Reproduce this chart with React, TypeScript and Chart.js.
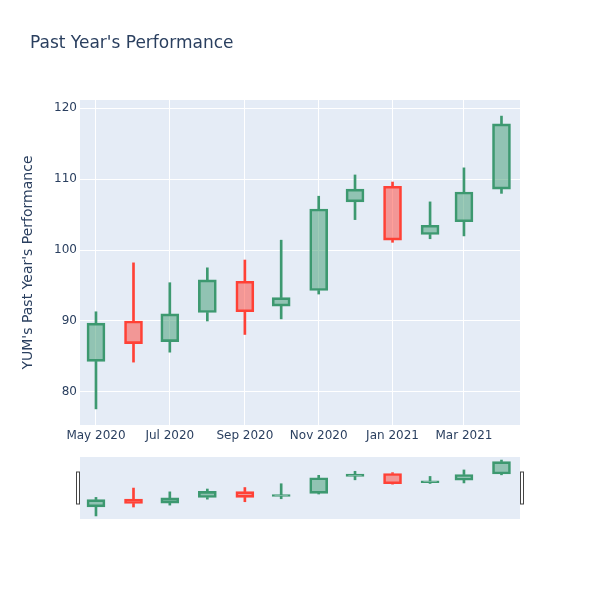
import React, { useEffect, useRef } from "react";
import { Chart, registerables } from "chart.js";

Chart.register(...registerables);

// ---- data ----
const dates = [
  "2020-05-01", "2020-06-01", "2020-07-01", "2020-08-01", "2020-09-01", "2020-10-01",
  "2020-11-01", "2020-12-01", "2021-01-01", "2021-02-01", "2021-03-01", "2021-04-01",
];
const opens = [84.3, 90.0, 87.1, 91.2, 95.6, 92.1, 94.3, 106.8, 109.0, 102.2, 104.0, 108.6];
const highs = [91.3, 98.2, 95.4, 97.5, 98.6, 101.4, 107.6, 110.6, 109.6, 106.8, 111.6, 118.9];
const lows = [77.6, 84.2, 85.6, 90.0, 88.1, 90.3, 93.8, 104.3, 101.1, 101.6, 102.0, 108.0];
const closes = [89.7, 86.8, 91.0, 95.8, 91.3, 93.3, 105.8, 108.6, 101.4, 103.5, 108.2, 117.8];

const tickDates = ["2020-05-01", "2020-07-01", "2020-09-01", "2020-11-01", "2021-01-01", "2021-03-01"];
const tickLabels = ["May 2020", "Jul 2020", "Sep 2020", "Nov 2020", "Jan 2021", "Mar 2021"];
const yTicks = [80, 90, 100, 110, 120];

const TITLE = "Past Year's Performance";
const Y_TITLE = "YUM's Past Year's Performance";

// ---- styles ----
const INC = "#3D9970";
const DEC = "#FF4136";
const INC_FILL = "rgba(61,153,112,0.5)";
const DEC_FILL = "rgba(255,65,54,0.5)";
const BG = "#E5ECF6";
const TXT = "#2a3f5f";
const FONT = "'DejaVu Sans', verdana, arial, sans-serif";

const dayOf = (s: string) => (Date.parse(s) - Date.parse(dates[0])) / 86400000;

const xs = dates.map(dayOf);
const xMin = xs[0] - 13.2;
const xMax = xs[xs.length - 1] + 15.3;
const dataMin = Math.min(...lows);
const dataMax = Math.max(...highs);
const yPad = (dataMax - dataMin) * 0.055;
const yMin = dataMin - yPad;
const yMax = dataMax + yPad;

function buildDatasets(bodyW: number, wickW: number) {
  const up = opens.map((o, i) => closes[i] >= o);
  const line = up.map((u) => (u ? INC : DEC));
  const fill = up.map((u) => (u ? INC_FILL : DEC_FILL));
  return [
    {
      label: "upper",
      data: xs.map((x, i) => ({ x, y: [Math.max(opens[i], closes[i]), highs[i]] })),
      backgroundColor: line,
      borderWidth: 0,
      barThickness: wickW,
      grouped: false,
    },
    {
      label: "lower",
      data: xs.map((x, i) => ({ x, y: [lows[i], Math.min(opens[i], closes[i])] })),
      backgroundColor: line,
      borderWidth: 0,
      barThickness: wickW,
      grouped: false,
    },
    {
      label: "body",
      data: xs.map((x, i) => ({ x, y: [opens[i], closes[i]] })),
      backgroundColor: fill,
      borderColor: line,
      borderWidth: 2,
      borderSkipped: false,
      barThickness: bodyW,
      grouped: false,
    },
  ];
}

const bgPlugin = {
  id: "plotBg",
  beforeDraw(chart: any) {
    const { ctx, chartArea: a } = chart;
    ctx.save();
    ctx.fillStyle = BG;
    ctx.fillRect(a.left, a.top, a.right - a.left, a.bottom - a.top);
    ctx.restore();
  },
};

const titlePlugin = {
  id: "mainTitle",
  afterDraw(chart: any) {
    const { ctx } = chart;
    ctx.save();
    ctx.fillStyle = TXT;
    ctx.font = `17px ${FONT}`;
    ctx.textAlign = "left";
    ctx.textBaseline = "middle";
    ctx.fillText(TITLE, 30, 44);
    ctx.restore();
  },
};

const handlePlugin = {
  id: "handles",
  afterDraw(chart: any) {
    const { ctx, chartArea: a } = chart;
    const h = 32;
    const top = (a.top + a.bottom) / 2 - h / 2;
    ctx.save();
    ctx.fillStyle = "#ffffff";
    ctx.strokeStyle = "#444444";
    ctx.lineWidth = 1;
    [a.left - 2, a.right + 2].forEach((cx) => {
      ctx.fillRect(cx - 1.5, top, 3, h);
      ctx.strokeRect(cx - 1.5, top, 3, h);
    });
    ctx.restore();
  },
};

export default function App() {
  const mainRef = useRef<HTMLCanvasElement>(null);
  const sliderRef = useRef<HTMLCanvasElement>(null);

  useEffect(() => {
    Chart.defaults.font.family = FONT;
    Chart.defaults.color = TXT;

    const main = new Chart(mainRef.current!, {
      type: "bar",
      data: { datasets: buildDatasets(18, 2) as any },
      options: {
        animation: false,
        responsive: false,
        layout: { padding: { left: 0, right: 80, top: 100, bottom: 145 } },
        plugins: { legend: { display: false }, tooltip: { enabled: false }, title: { display: false } },
        scales: {
          x: {
            type: "linear",
            offset: false,
            min: xMin,
            max: xMax,
            grid: { color: "#ffffff", lineWidth: 1, drawTicks: false, offset: false },
            border: { display: false },
            ticks: {
              color: TXT,
              font: { size: 12 },
              padding: 4,
              maxRotation: 0,
              autoSkip: false,
              callback: (_v: any, i: number) => tickLabels[i],
            },
            afterBuildTicks: (scale: any) => {
              scale.ticks = tickDates.map((d) => ({ value: dayOf(d) }));
            },
            afterFit: (scale: any) => {
              scale.height = 30;
            },
          },
          y: {
            type: "linear",
            min: yMin,
            max: yMax,
            grid: { color: "#ffffff", lineWidth: 1, drawTicks: false },
            border: { display: false },
            ticks: { color: TXT, font: { size: 12 }, padding: 3 },
            afterBuildTicks: (scale: any) => {
              scale.ticks = yTicks.map((v) => ({ value: v }));
            },
            afterFit: (scale: any) => {
              scale.width = 80;
            },
            title: {
              display: true,
              text: Y_TITLE,
              color: TXT,
              font: { size: 14 },
              padding: { top: 20, bottom: 0 },
            },
          },
        },
      } as any,
      plugins: [bgPlugin, titlePlugin],
    });

    const slider = new Chart(sliderRef.current!, {
      type: "bar",
      data: { datasets: buildDatasets(18, 2) as any },
      options: {
        animation: false,
        responsive: false,
        layout: { padding: { left: 80, right: 80, top: 7, bottom: 11 } },
        plugins: { legend: { display: false }, tooltip: { enabled: false } },
        scales: {
          x: { type: "linear", offset: false, min: xMin, max: xMax, display: false },
          y: { type: "linear", min: yMin, max: yMax, display: false },
        },
      } as any,
      plugins: [bgPlugin, handlePlugin],
    });

    return () => {
      main.destroy();
      slider.destroy();
    };
  }, []);

  return (
    <div style={{ position: "absolute", left: 0, top: 0, width: 600, height: 600, background: "#fff" }}>
      <canvas ref={mainRef} width={600} height={600} style={{ position: "absolute", left: 0, top: 0 }} />
      <canvas ref={sliderRef} width={600} height={80} style={{ position: "absolute", left: 0, top: 450 }} />
    </div>
  );
}
